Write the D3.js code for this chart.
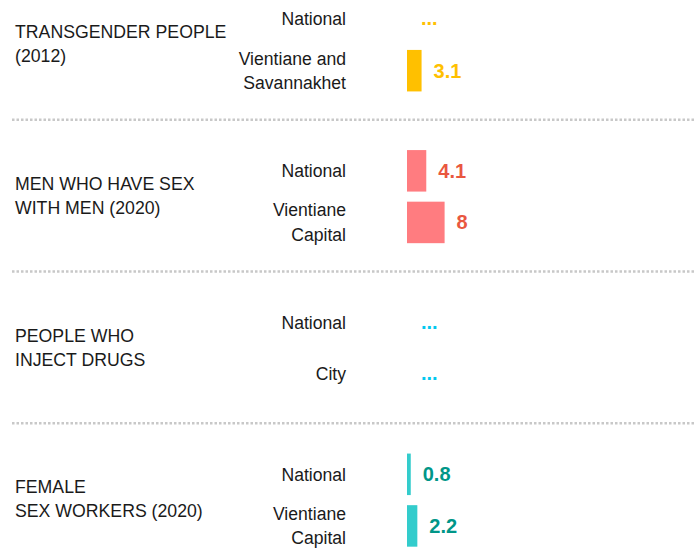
<!DOCTYPE html>
<html>
<head>
<meta charset="utf-8">
<script src="https://cdn.jsdelivr.net/npm/d3@7"></script>
<style>
  html, body { margin: 0; padding: 0; background: #fff; }
  svg { display: block; font-family: "Liberation Sans", Arial, sans-serif; }
</style>
</head>
<body>
<svg id="chart" width="700" height="550"></svg>
<script>
// ---- data ----
const groupIds = ["tg", "msm", "pwid", "fsw"];
const groupLabels = [
  ["TRANSGENDER PEOPLE", "(2012)"],
  ["MEN WHO HAVE SEX", "WITH MEN (2020)"],
  ["PEOPLE WHO", "INJECT DRUGS"],
  ["FEMALE", "SEX WORKERS (2020)"]
];
const rowLabels = [
  [["National"], ["Vientiane and", "Savannakhet"]],
  [["National"], ["Vientiane", "Capital"]],
  [["National"], ["City"]],
  [["National"], ["Vientiane", "Capital"]]
];
const values = [
  [null, 3.1],
  [4.1, 8],
  [null, null],
  [0.8, 2.2]
];
const barColors = ["#FFC000", "#FF7C80", "#00C8F0", "#33CCCC"];
const textColors = ["#FFC000", "#E9573F", "#00C8F0", "#009688"];

// ---- scales ----
const svg = d3.select("#chart");
const yGroup = d3.scaleBand().domain(groupIds).range([-31, 576]);
const yRow = d3.scalePoint().domain([0, 1]).range([-25.8, 25.8]);
const x = d3.scaleLinear().domain([0, 8]).range([407, 444.6]);
const barH = 41.5;
const lineH = 24.5;
const catMaxWidth = 212;

// separators
svg.selectAll("line.sep")
  .data(groupIds.slice(1))
  .join("line")
  .attr("class", "sep")
  .attr("x1", 12).attr("x2", 694)
  .attr("y1", d => yGroup(d) - 1).attr("y2", d => yGroup(d) - 1)
  .attr("stroke", "#c8c8c8")
  .attr("stroke-width", 2.5)
  .attr("stroke-dasharray", "2.5,2");

const groups = svg.selectAll("g.group")
  .data(groupIds.map((id, i) => ({ id, i })))
  .join("g")
  .attr("class", "group")
  .attr("transform", d => `translate(0,${yGroup(d.id) + yGroup.bandwidth() / 2})`);

groups.each(function (d) {
  const g = d3.select(this);
  const lines = groupLabels[d.i];
  const n = lines.length;
  g.selectAll("text.cat")
    .data(lines)
    .join("text")
    .attr("class", "cat")
    .attr("x", 15)
    .attr("y", (l, j) => (j - (n - 1) / 2) * 24 - 1)
    .attr("dy", "0.35em")
    .attr("font-size", 17.7)
    .attr("fill", "#1a1a1a")
    .text(l => l)
    .each(function () {
      if (this.getComputedTextLength() > catMaxWidth) {
        d3.select(this).attr("textLength", catMaxWidth).attr("lengthAdjust", "spacingAndGlyphs");
      }
    });

  [0, 1].forEach(r => {
    const cy = yRow(r);
    const lbl = rowLabels[d.i][r];
    const m = lbl.length;
    g.selectAll(`text.sub${r}`)
      .data(lbl)
      .join("text")
      .attr("class", `sub${r}`)
      .attr("x", 346)
      .attr("y", (l, j) => cy + (j - (m - 1) / 2) * lineH)
      .attr("dy", "0.35em")
      .attr("text-anchor", "end")
      .attr("font-size", 17.6)
      .attr("fill", "#1a1a1a")
      .text(l => l);

    const v = values[d.i][r];
    if (v !== null) {
      g.append("rect")
        .attr("x", x(0))
        .attr("y", cy - barH / 2)
        .attr("width", x(v) - x(0))
        .attr("height", barH)
        .attr("fill", barColors[d.i]);
    }
    g.append("text")
      .attr("x", x(v === null ? 0 : v) + (v === null ? 14 : 12))
      .attr("y", cy)
      .attr("dy", v === null ? "0.3em" : "0.35em")
      .attr("font-size", 20)
      .attr("font-weight", "bold")
      .attr("fill", textColors[d.i])
      .text(v === null ? "..." : d3.format("")(v));
  });
});
</script>
</body>
</html>
